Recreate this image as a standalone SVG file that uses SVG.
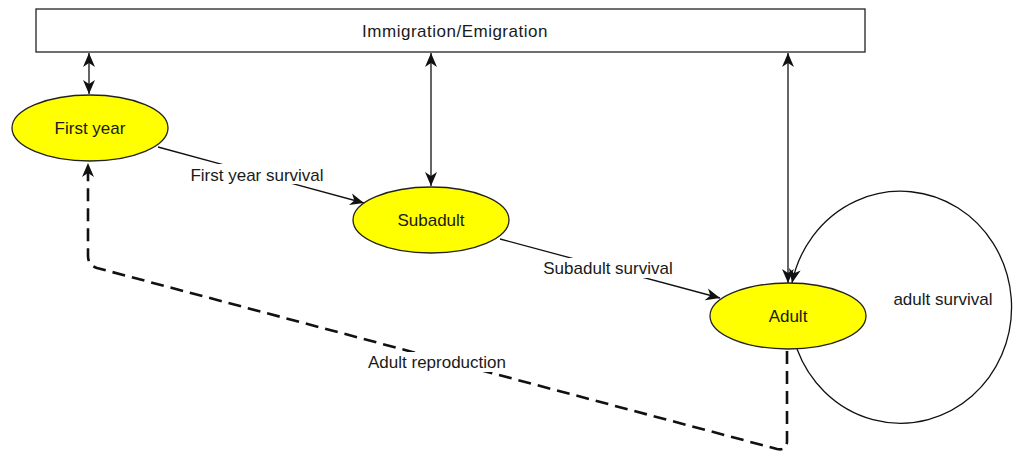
<svg xmlns="http://www.w3.org/2000/svg" width="1017" height="456" viewBox="0 0 1017 456">
<style>
text{font-family:"Liberation Sans",Arial,sans-serif;font-size:17px;fill:#1a1a1a;text-anchor:middle}
.node{fill:#ffff00;stroke:#222;stroke-width:1.3}
.box{fill:#fff;stroke:#222;stroke-width:1.3}
.edge{fill:none;stroke:#111;stroke-width:1.3}
.dash{fill:none;stroke:#111;stroke-width:2.6;stroke-dasharray:13 7}
.bg{fill:#fff}
</style>
<defs>
<marker id="arr" markerUnits="userSpaceOnUse" markerWidth="15" markerHeight="13" refX="14" refY="6" orient="auto-start-reverse" viewBox="0 0 15 12">
<path d="M0,0 L14,6 L0,12 L4,6 z" fill="#111"/>
</marker>
</defs>
<g id="immigration">
<rect class="box" x="36" y="9" width="829" height="43"/>
<text x="455" y="37" style="letter-spacing:0.5px">Immigration/Emigration</text>
</g>
<g id="connectors">
<line class="edge" x1="89" y1="53" x2="89" y2="94" marker-start="url(#arr)" marker-end="url(#arr)"/>
<line class="edge" x1="431" y1="53" x2="431" y2="186" marker-start="url(#arr)" marker-end="url(#arr)"/>
<line class="edge" x1="788" y1="53" x2="788" y2="283" marker-start="url(#arr)" marker-end="url(#arr)"/>
<line class="edge" x1="158" y1="147" x2="364" y2="203" marker-end="url(#arr)"/>
<rect class="bg" x="187" y="164" width="141" height="20"/>
<text x="257" y="181">First year survival</text>
<line class="edge" x1="500" y1="239" x2="720" y2="298" marker-end="url(#arr)"/>
<rect class="bg" x="539" y="258" width="138" height="20"/>
<text x="608" y="274">Subadult survival</text>
<path class="edge" d="M797,349 A111,116 0 1 0 792,283" marker-end="url(#arr)"/>
<text x="943" y="305">adult survival</text>
<path class="dash" d="M787,351 V441 Q787,451 777,449 L97,268 Q88,265 88,256 V163" marker-end="url(#arr)"/>
<rect class="bg" x="363" y="352" width="148" height="20"/>
<text x="437" y="368">Adult reproduction</text>
</g>
<g id="firstyear">
<ellipse class="node" cx="90" cy="128" rx="78" ry="33"/>
<text x="90" y="134">First year</text>
</g>
<g id="subadult">
<ellipse class="node" cx="431" cy="220" rx="78" ry="33"/>
<text x="431" y="226">Subadult</text>
</g>
<g id="adult">
<ellipse class="node" cx="788" cy="316" rx="78" ry="33"/>
<text x="788" y="322">Adult</text>
</g>
</svg>
